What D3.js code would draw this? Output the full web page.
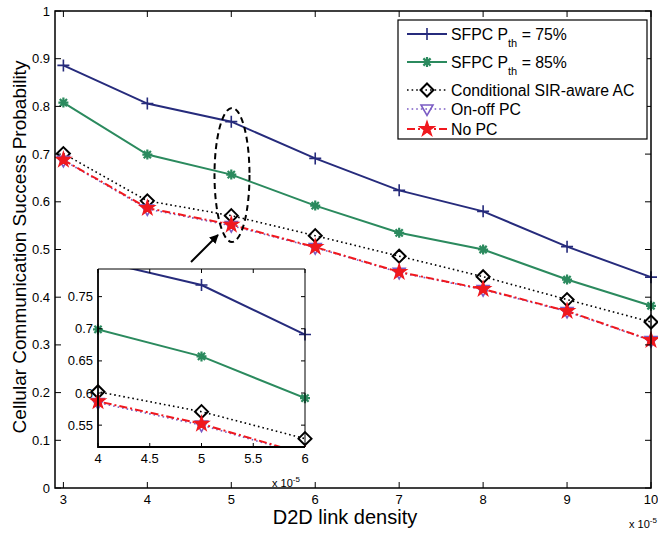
<!DOCTYPE html>
<html><head><meta charset="utf-8">
<script src="https://cdn.jsdelivr.net/npm/d3@7/dist/d3.min.js"></script>
<style>body{margin:0;background:#fff}svg{display:block;font-family:"Liberation Sans",Arial,sans-serif}</style>
</head><body>
<svg id="c" width="658" height="534"></svg>
<script>
const density = [3,4,5,6,7,8,9,10];
const sfpc75 = [0.886,0.806,0.768,0.691,0.624,0.580,0.506,0.442];
const sfpc85 = [0.808,0.699,0.657,0.592,0.535,0.500,0.437,0.382];
const condSIR = [0.701,0.602,0.571,0.529,0.486,0.443,0.395,0.348];
const onoffPC = [0.687,0.585,0.550,0.504,0.452,0.416,0.370,0.309];
const noPC = [0.688,0.587,0.552,0.505,0.453,0.417,0.371,0.310];
const xTicks = [3,4,5,6,7,8,9,10];
const yTicks = [0,0.1,0.2,0.3,0.4,0.5,0.6,0.7,0.8,0.9,1];
const insetXTicks = [4,4.5,5,5.5,6];
const insetYTicks = [0.55,0.6,0.65,0.7,0.75];
const legendLabels = ["SFPC P|th| = 75%","SFPC P|th| = 85%","Conditional SIR-aware AC","On-off PC","No PC"];

const series = [
  {name:legendLabels[0], v:sfpc75, color:"#262b7c", w:2, dash:null, m:"plus"},
  {name:legendLabels[1], v:sfpc85, color:"#2b8a5e", w:2, dash:null, m:"ast"},
  {name:legendLabels[2], v:condSIR, color:"#000", w:1.6, dash:"1.6,3", m:"diamond"},
  {name:legendLabels[3], v:onoffPC, color:"#7b5cc4", w:1.6, dash:"1.6,3", m:"tri"},
  {name:legendLabels[4], v:noPC, color:"#f0181e", w:2, dash:"8,3,2,3", m:"star"}
];

const svg = d3.select("#c");
const x = d3.scaleLinear([2.9,10],[55,651]);
const y = d3.scaleLinear([0,1],[488,11]);

function marker(g, type, color){
  if(type==="plus"){
    g.append("path").attr("d","M-6,0H6M0,-6V6").attr("stroke",color).attr("stroke-width",1.6).attr("fill","none");
  } else if(type==="ast"){
    g.append("path").attr("d","M-5,0H5M0,-5V5M-3.6,-3.6L3.6,3.6M-3.6,3.6L3.6,-3.6").attr("stroke",color).attr("stroke-width",2.2).attr("fill","none");
  } else if(type==="diamond"){
    g.append("path").attr("d","M0,-6.5L6.5,0L0,6.5L-6.5,0Z").attr("stroke","#000").attr("stroke-width",2).attr("fill","none");
  } else if(type==="tri"){
    g.append("path").attr("d","M-6,-4L6,-4L0,6.5Z").attr("stroke",color).attr("stroke-width",1.6).attr("fill","none");
  } else if(type==="star"){
    g.append("path").attr("d",d3.symbol(d3.symbolStar,70)()).attr("stroke",color).attr("stroke-width",1.2).attr("fill",color);
  }
}

function drawSeries(root, xs, ys){
  series.forEach(s=>{
    const line = d3.line().x((d,i)=>xs(density[i])).y(d=>ys(d));
    root.append("path").datum(s.v).attr("d",line).attr("fill","none")
      .attr("stroke",s.color).attr("stroke-width",s.w).attr("stroke-dasharray",s.dash);
  });
  series.forEach(s=>{
    s.v.forEach((d,i)=>{
      const g = root.append("g").attr("transform",`translate(${xs(density[i])},${ys(d)})`);
      marker(g,s.m,s.color);
    });
  });
}

// main axes box
const L=55,R=651,T=11,B=488;
svg.append("rect").attr("x",L).attr("y",T).attr("width",R-L).attr("height",B-T).attr("fill","#fff");
svg.append("clipPath").attr("id","mainclip").append("rect").attr("x",L-8).attr("y",T-8).attr("width",R-L+16).attr("height",B-T+16);
drawSeries(svg.append("g").attr("clip-path","url(#mainclip)"), x, y);

// ticks
const tk = svg.append("g").attr("stroke","#000").attr("stroke-width",1);
xTicks.forEach(t=>{
  tk.append("line").attr("x1",x(t)).attr("x2",x(t)).attr("y1",B).attr("y2",B-6);
  tk.append("line").attr("x1",x(t)).attr("x2",x(t)).attr("y1",T).attr("y2",T+6);
});
yTicks.forEach(t=>{
  tk.append("line").attr("x1",L).attr("x2",L+6).attr("y1",y(t)).attr("y2",y(t));
  tk.append("line").attr("x1",R).attr("x2",R-6).attr("y1",y(t)).attr("y2",y(t));
});
svg.append("rect").attr("x",L).attr("y",T).attr("width",R-L).attr("height",B-T).attr("fill","none").attr("stroke","#000").attr("stroke-width",1.5);

svg.append("g").selectAll("text").data(xTicks).join("text")
  .attr("x",d=>x(d)).attr("y",504).attr("text-anchor","middle").attr("font-size",13).text(d=>d);
svg.append("g").selectAll("text").data(yTicks).join("text")
  .attr("x",50).attr("y",d=>y(d)+4.5).attr("text-anchor","end").attr("font-size",13).text(d=>d);

svg.append("text").attr("x",345).attr("y",524).attr("text-anchor","middle").attr("font-size",20).text("D2D link density");
svg.append("text").attr("transform","translate(26,247) rotate(-90)").attr("text-anchor","middle").attr("font-size",19).text("Cellular Communication Success Probability");
const ex = svg.append("text").attr("x",629).attr("y",528).attr("font-size",11);
ex.append("tspan").text("x 10");
ex.append("tspan").attr("dy",-5).attr("font-size",8).text("-5");

// ellipse + arrow
svg.append("ellipse").attr("cx",232).attr("cy",175).attr("rx",17.5).attr("ry",67)
  .attr("fill","none").attr("stroke","#000").attr("stroke-width",2).attr("stroke-dasharray","6,4");
svg.append("defs").append("marker").attr("id","ah").attr("viewBox","0 0 10 10").attr("refX",9).attr("refY",5)
  .attr("markerWidth",9).attr("markerHeight",9).attr("markerUnits","userSpaceOnUse").attr("orient","auto")
  .append("path").attr("d","M0,0L10,5L0,10Z").attr("fill","#000");
svg.append("line").attr("x1",191).attr("y1",262).attr("x2",218).attr("y2",235)
  .attr("stroke","#000").attr("stroke-width",2).attr("marker-end","url(#ah)");

// inset
const IL=98, IR=305, IT=269, IB=447;
const xi = d3.scaleLinear([4,6],[IL,IR]);
const yi = d3.scaleLinear([0.516,0.793],[IB,IT]);
svg.append("rect").attr("x",IL).attr("y",IT).attr("width",IR-IL).attr("height",IB-IT).attr("fill","#fff");
svg.append("clipPath").attr("id","iclip").append("rect").attr("x",IL).attr("y",IT).attr("width",IR-IL).attr("height",IB-IT);
svg.append("clipPath").attr("id","iclip2").append("rect").attr("x",IL-9).attr("y",IT).attr("width",IR-IL+18).attr("height",IB-IT);
const ig = svg.append("g");
series.forEach(s=>{
  const line = d3.line().x((d,i)=>xi(density[i])).y(d=>yi(d));
  ig.append("path").datum(s.v).attr("d",line).attr("fill","none").attr("clip-path","url(#iclip)")
    .attr("stroke",s.color).attr("stroke-width",s.w).attr("stroke-dasharray",s.dash);
});
const im = ig.append("g").attr("clip-path","url(#iclip2)");
series.forEach(s=>{
  s.v.forEach((d,i)=>{
    if(density[i]<4||density[i]>6) return;
    const g = im.append("g").attr("transform",`translate(${xi(density[i])},${yi(d)})`);
    marker(g,s.m,s.color);
  });
});
const itk = svg.append("g").attr("stroke","#000").attr("stroke-width",1);
insetXTicks.forEach(t=>{
  itk.append("line").attr("x1",xi(t)).attr("x2",xi(t)).attr("y1",IB).attr("y2",IB-4);
  itk.append("line").attr("x1",xi(t)).attr("x2",xi(t)).attr("y1",IT).attr("y2",IT+4);
});
insetYTicks.forEach(t=>{
  itk.append("line").attr("x1",IL).attr("x2",IL+4).attr("y1",yi(t)).attr("y2",yi(t));
  itk.append("line").attr("x1",IR).attr("x2",IR-4).attr("y1",yi(t)).attr("y2",yi(t));
});
svg.append("path").attr("d",`M${IL},${IT}V${IB}H${IR}`).attr("fill","none").attr("stroke","#000").attr("stroke-width",1.8);
svg.append("path").attr("d",`M${IL},${IT}H${IR}V${IB}`).attr("fill","none").attr("stroke","#000").attr("stroke-width",1);
svg.append("g").selectAll("text").data(insetXTicks).join("text")
  .attr("x",d=>xi(d)).attr("y",463).attr("text-anchor","middle").attr("font-size",13).text(d=>d);
svg.append("g").selectAll("text").data(insetYTicks).join("text")
  .attr("x",93).attr("y",d=>yi(d)+4.5).attr("text-anchor","end").attr("font-size",13).text(d=>d);
const ex2 = svg.append("text").attr("x",272).attr("y",487).attr("font-size",11);
ex2.append("tspan").text("x 10");
ex2.append("tspan").attr("dy",-5).attr("font-size",8).text("-5");

// legend
const lg = svg.append("g");
lg.append("rect").attr("x",398).attr("y",20).attr("width",249).attr("height",119).attr("fill","#fff").attr("stroke","#000").attr("stroke-width",1.2);
const ly = [34,62,90,109,129];
series.forEach((s,i)=>{
  lg.append("line").attr("x1",407).attr("x2",447).attr("y1",ly[i]).attr("y2",ly[i])
    .attr("stroke",s.color).attr("stroke-width",s.w).attr("stroke-dasharray",s.dash);
  marker(lg.append("g").attr("transform",`translate(427,${ly[i]})`),s.m,s.color);
  const parts = s.name.split("|");
  const t = lg.append("text").attr("x",451).attr("y",ly[i]+5.5).attr("font-size",15.8);
  t.append("tspan").text(parts[0]);
  if(parts.length>1){
    t.append("tspan").attr("dy",7).attr("font-size",11).text(parts[1]);
    t.append("tspan").attr("dy",-7).text(parts[2]);
  }
});
</script>
</body></html>
